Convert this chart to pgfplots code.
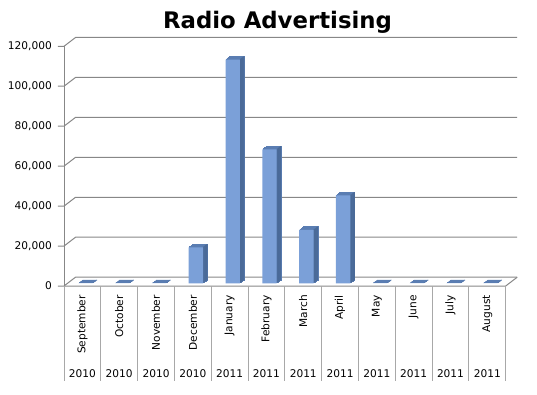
\documentclass[border=0pt]{standalone}
\usepackage{pgfplots}
\pgfplotsset{compat=1.18}
\usepackage{pgfplotstable}
\usepackage{fontspec}
\setmainfont{DejaVu Sans}
\definecolor{barfront}{HTML}{7BA0D8}
\definecolor{bartop}{HTML}{5A7DB2}
\definecolor{barside}{HTML}{4A6A98}
\definecolor{gridc}{HTML}{878787}
\definecolor{sepc}{HTML}{A8A8A8}

\pgfplotstableread{
x value
0 0
1 0
2 0
3 18000
4 112000
5 67000
6 26700
7 44000
8 0
9 0
10 0
11 0
}\radiodata

\begin{document}
\begin{tikzpicture}
\path[use as bounding box] (0,0) rectangle (537bp,395bp);
\node[anchor=base, font=\fontsize{22.8bp}{27bp}\selectfont\bfseries] at (277.5bp,366.7bp) {Radio Advertising};
\begin{axis}[
  at={(64bp,109bp)}, anchor=south west, scale only axis,
  width=441.7bp, height=239.7bp,
  xmin=-0.5, xmax=11.5, ymin=0, ymax=120000, clip=false,
  axis line style={draw=none}, major tick length=0pt,
  xtick={0,...,11},
  xticklabels={September,October\hspace{16bp},November,December,January,February,March,April,May,June,July,August},
  xticklabel style={rotate=90, anchor=east, inner sep=0pt, font=\fontsize{10.6bp}{12bp}\selectfont},
  xticklabel shift=9bp,
  ytick={0,20000,40000,60000,80000,100000,120000},
  scaled y ticks=false,
  /pgf/number format/fixed,
  /pgf/number format/precision=0,
  /pgf/number format/1000 sep={,},
  /pgf/number format/assume math mode=true,
  yticklabel style={anchor=east, inner sep=0pt, xshift=-12bp, font=\fontsize{10.6bp}{12bp}\selectfont},
]
% back wall gridlines, diagonal ticks and small outer ticks
\pgfplotsinvokeforeach{0,20000,40000,60000,80000,100000,120000}{
  \draw[gridc, line width=1bp] ([xshift=-6bp]axis cs:-0.5,#1) -- (axis cs:-0.5,#1)
     -- ([shift={(11.5bp,8.8bp)}]axis cs:-0.5,#1) -- ([shift={(11.5bp,8.8bp)}]axis cs:11.5,#1);
}
% front y axis line
\draw[gridc, line width=1bp] (axis cs:-0.5,0) -- (axis cs:-0.5,120000);
% floor front edge and right edge
\draw[gridc, line width=1bp] (axis cs:-0.5,0) -- (axis cs:11.5,0) -- ([shift={(11.5bp,8.8bp)}]axis cs:11.5,0);
% category separators
\pgfplotsinvokeforeach{-0.5,0.5,1.5,2.5,3.5,4.5,5.5,6.5,7.5,8.5,9.5,10.5,11.5}{
  \draw[sepc, line width=0.9bp] (axis cs:#1,0) -- ([yshift=-95bp]axis cs:#1,0);
}
% year labels
\pgfplotsinvokeforeach{0,1,2,3}{
  \node[font=\fontsize{10.6bp}{12bp}\selectfont, anchor=center] at ([yshift=-87.5bp]axis cs:#1,0) {2010};
}
\pgfplotsinvokeforeach{4,5,6,7,8,9,10,11}{
  \node[font=\fontsize{10.6bp}{12bp}\selectfont, anchor=center] at ([yshift=-87.5bp]axis cs:#1,0) {2011};
}
% bar depth: top faces (full-width shifted copies)
\pgfplotsinvokeforeach{6,5,4,3,2,1}{
  \addplot[ybar, bar shift=0pt, bar width=14.4bp, fill=bartop, draw=bartop, line width=0.7bp,
    xshift=3.1bp+#1*0.72bp, yshift=2.7bp+#1*0.55bp] table[x=x, y=value] {\radiodata};
}
% bar depth: side faces (thin slices right of the front face)
\pgfplotsinvokeforeach{1,2,3,4,5,6}{
  \addplot[ybar, bar shift=0pt, bar width=1bp, fill=barside, draw=none,
    xshift=3.1bp+7.2bp+#1*0.72bp-0.4bp, yshift=2.7bp+#1*0.55bp] table[x=x, y=value] {\radiodata};
}
% bar front faces
\addplot[ybar, bar shift=0pt, bar width=14.4bp, fill=barfront, draw=none,
  xshift=3.1bp, yshift=2.7bp] table[x=x, y=value] {\radiodata};
\end{axis}
\end{tikzpicture}
\end{document}
